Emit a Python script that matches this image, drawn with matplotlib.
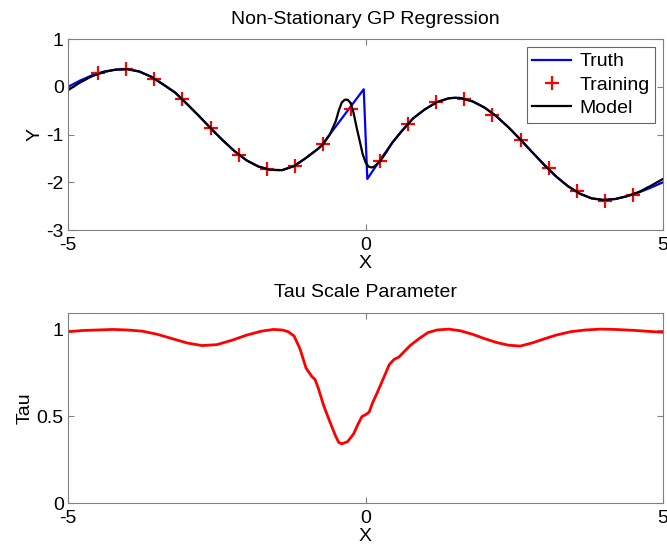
import numpy as np
import matplotlib
matplotlib.use("Agg")
import matplotlib.pyplot as plt

plt.rcParams['font.family'] = ['Liberation Sans', 'DejaVu Sans']
plt.rcParams['axes.unicode_minus'] = False

# training points
train_x = [-4.5, -4.026, -3.553, -3.079, -2.605, -2.132, -1.658, -1.184, -0.711, -0.237,
           0.237, 0.711, 1.184, 1.658, 2.132, 2.605, 3.079, 3.553, 4.026, 4.5]
train_y = [0.29, 0.365, 0.16, -0.26, -0.855, -1.43, -1.72, -1.65, -1.19, -0.46,
           -1.555, -0.78, -0.326, -0.256, -0.58, -1.115, -1.71, -2.18, -2.39, -2.27]

# true function (jump at zero)
truth_x = [-5.0, -4.8, -4.6, -4.4, -4.2, -4.0, -3.8, -3.6, -3.4, -3.2, -3.0, -2.8, -2.6,
           -2.4, -2.2, -2.0, -1.8, -1.6, -1.4, -1.2, -1.0, -0.8, -0.75, -0.03, 0.03, 0.244,
           0.45, 0.6, 0.8, 1.0, 1.2, 1.4, 1.5, 1.6, 1.8, 2.0, 2.2, 2.4, 2.6, 2.8, 3.0, 3.2,
           3.4, 3.6, 3.8, 4.0, 4.2, 4.4, 4.6, 4.8, 5.0]
truth_y = [0.0, 0.13, 0.24, 0.32, 0.36, 0.37, 0.32, 0.21, 0.05, -0.12, -0.36, -0.61, -0.87,
           -1.12, -1.35, -1.54, -1.67, -1.74, -1.745, -1.66, -1.49, -1.3, -1.245, -0.05, -1.93, -1.535,
           -1.17, -0.94, -0.66, -0.47, -0.32, -0.24, -0.23, -0.235, -0.305, -0.434, -0.618, -0.844, -1.1, -1.367, -1.63, -1.874,
           -2.08, -2.237, -2.337, -2.37, -2.35, -2.29, -2.21, -2.11, -2.0]

# GP model mean
model_x = [-5.0, -4.8, -4.6, -4.4, -4.2, -4.0, -3.8, -3.6, -3.4, -3.2, -3.0, -2.8, -2.6,
           -2.4, -2.2, -2.0, -1.8, -1.6, -1.4, -1.2, -1.0, -0.8, -0.7, -0.6, -0.5, -0.45,
           -0.4, -0.35, -0.3, -0.25, -0.2, -0.15, -0.1, -0.05, 0.0, 0.05, 0.1, 0.15, 0.25,
           0.35, 0.45, 0.6, 0.8, 1.0, 1.2, 1.4, 1.5, 1.6, 1.8, 2.0, 2.2, 2.4, 2.6, 2.8, 3.0,
           3.2, 3.4, 3.6, 3.8, 4.0, 4.2, 4.4, 4.6, 4.8, 5.0]
model_y = [-0.07, 0.09, 0.22, 0.31, 0.36, 0.37, 0.32, 0.21, 0.05, -0.12, -0.36, -0.61, -0.87,
           -1.12, -1.35, -1.54, -1.67, -1.74, -1.745, -1.66, -1.49, -1.3, -1.18, -1.0, -0.72, -0.5,
           -0.33, -0.27, -0.27, -0.34, -0.55, -0.85, -1.12, -1.4, -1.58, -1.67, -1.69, -1.67, -1.55,
           -1.37, -1.17, -0.94, -0.66, -0.47, -0.32, -0.24, -0.23, -0.235, -0.305, -0.434, -0.618, -0.844, -1.1, -1.367, -1.63,
           -1.874, -2.08, -2.237, -2.337, -2.37, -2.35, -2.29, -2.2, -2.07, -1.93]

# tau scale parameter
tau_x = [-5.0, -4.75, -4.5, -4.25, -4.0, -3.75, -3.5, -3.25, -3.0, -2.75, -2.5, -2.25, -2.0,
         -1.75, -1.55, -1.4, -1.3, -1.2, -1.1, -1.0, -0.9, -0.85, -0.8, -0.7, -0.6, -0.5,
         -0.45, -0.4, -0.3, -0.2, -0.12, -0.06, 0.0, 0.06, 0.12, 0.2, 0.3, 0.4, 0.48, 0.56,
         0.65, 0.75, 0.9, 1.05, 1.2, 1.4, 1.6, 1.8, 2.0, 2.2, 2.4, 2.6, 2.8, 3.0, 3.2, 3.45,
         3.7, 3.95, 4.2, 4.5, 4.75, 5.0]
tau_y = [0.99, 0.997, 1.0, 1.003, 1.0, 0.993, 0.975, 0.95, 0.925, 0.91, 0.915, 0.94, 0.97,
         0.993, 1.003, 1.0, 0.99, 0.965, 0.89, 0.78, 0.73, 0.715, 0.67, 0.56, 0.47, 0.385,
         0.35, 0.342, 0.355, 0.40, 0.46, 0.5, 0.51, 0.525, 0.58, 0.64, 0.72, 0.8, 0.83, 0.843,
         0.875, 0.91, 0.95, 0.985, 1.0, 1.005, 0.995, 0.975, 0.95, 0.928, 0.912, 0.907, 0.925, 0.948, 0.97, 0.99,
         1.0, 1.005, 1.003, 0.998, 0.992, 0.987]

fig = plt.figure(figsize=(6.67, 5.47), dpi=100)
ax1 = fig.add_axes([0.102, 0.5795, 0.892, 0.349])
ax2 = fig.add_axes([0.102, 0.0804, 0.892, 0.348])

ax1.plot(truth_x, truth_y, color='blue', lw=1.6, label='Truth')
ax1.plot(train_x, train_y, '+', color='red', ms=10, mew=1.6, label='Training')
ax1.plot(model_x, model_y, color='black', lw=1.6, label='Model')
ax1.set_xlim(-5, 5)
ax1.set_ylim(-3, 1)
ax1.set_xticks([-5, 0, 5])
ax1.set_yticks([-3, -2, -1, 0, 1])
ax1.set_title('Non-Stationary GP Regression', fontsize=14, pad=11)
ax1.set_xlabel('X', fontsize=14, labelpad=1)
ax1.set_ylabel('Y', fontsize=14, labelpad=2)
leg = ax1.legend(loc='upper right', fontsize=14, frameon=True, fancybox=False,
                 borderaxespad=0.4, handlelength=2.0, handletextpad=0.4,
                 borderpad=0.3, labelspacing=0.3)
leg.get_frame().set_edgecolor('#404040')
leg.get_frame().set_linewidth(0.8)

ax2.plot(tau_x, tau_y, color='red', lw=2.0)
ax2.set_xlim(-5, 5)
ax2.set_ylim(0, 1.1)
ax2.set_xticks([-5, 0, 5])
ax2.set_yticks([0, 0.5, 1])
ax2.set_yticklabels(['0', '0.5', '1'])
ax2.set_title('Tau Scale Parameter', fontsize=14, pad=11)
ax2.set_xlabel('X', fontsize=14, labelpad=1)
ax2.set_ylabel('Tau', fontsize=14, labelpad=2)

for ax in (ax1, ax2):
    ax.tick_params(direction='in', top=True, right=True, length=4, width=0.8,
                   color='#808080', labelsize=14)
    ax.tick_params(axis='x', pad=5)
    ax.tick_params(axis='y', pad=3)
    for s in ax.spines.values():
        s.set_color('#808080')
        s.set_linewidth(0.8)

fig.savefig('out.png', dpi=100)
